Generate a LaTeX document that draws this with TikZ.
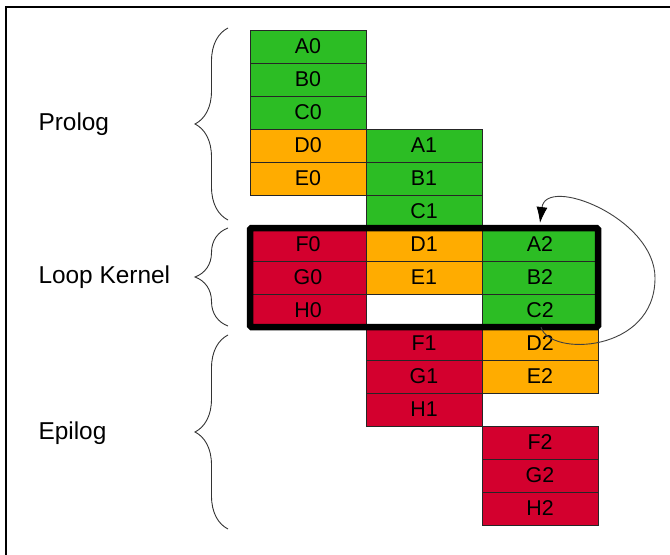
\documentclass[tikz,border=0pt]{standalone}
\usepackage{fontspec}
\setmainfont{Liberation Sans}
\usetikzlibrary{positioning,decorations.pathreplacing,arrows.meta}
\definecolor{stGreen}{HTML}{2CBD24}
\definecolor{stOrange}{HTML}{FFAC00}
\definecolor{stRed}{HTML}{D3002E}

\tikzset{
    stage/.style={draw=black!85, line width=0.9bp, minimum width=116bp, minimum height=33bp,
        inner sep=0pt, outer sep=0pt, font=\fontsize{21.5}{25}\selectfont},
    grn/.style={stage, fill=stGreen},
    org/.style={stage, fill=stOrange},
    rd/.style={stage, fill=stRed},
    kbrace/.style={decorate, decoration={brace, amplitude=33bp}, line width=0.9bp, black!80},
    phase/.style={anchor=west, font=\fontsize{24.5}{28}\selectfont}
}

\begin{document}
\begin{tikzpicture}[x=1bp, y=-1bp]
    \useasboundingbox (0,0) rectangle (670,555);
    \draw[line width=1.3bp] (6,555) -- (6,7) -- (670,7);

    % iteration 0
    \node[grn] (A0) at (308,46.5) {A0};
    \node[grn, below=0pt of A0] (B0) {B0};
    \node[grn, below=0pt of B0] (C0) {C0};
    \node[org, below=0pt of C0] (D0) {D0};
    \node[org, below=0pt of D0] (E0) {E0};
    \node[rd, below=33bp of E0] (F0) {F0};
    \node[rd, below=0pt of F0] (G0) {G0};
    \node[rd, below=0pt of G0] (H0) {H0};

    % iteration 1
    \node[grn, right=0pt of D0] (A1) {A1};
    \node[grn, below=0pt of A1] (B1) {B1};
    \node[grn, below=0pt of B1] (C1) {C1};
    \node[org, below=0pt of C1] (D1) {D1};
    \node[org, below=0pt of D1] (E1) {E1};
    \node[rd, anchor=north west] (F1) at (H0.south east) {F1};
    \node[rd, below=0pt of F1] (G1) {G1};
    \node[rd, below=0pt of G1] (H1) {H1};

    % iteration 2
    \node[grn, right=0pt of D1] (A2) {A2};
    \node[grn, below=0pt of A2] (B2) {B2};
    \node[grn, below=0pt of B2] (C2) {C2};
    \node[org, right=0pt of F1] (D2) {D2};
    \node[org, below=0pt of D2] (E2) {E2};
    \node[rd, anchor=north west] (F2) at (H1.south east) {F2};
    \node[rd, below=0pt of F2] (G2) {G2};
    \node[rd, below=0pt of G2] (H2) {H2};

    % steady state
    \draw[line width=6.5bp, rounded corners=1.5bp] (F0.north west) rectangle (C2.south east);
    \draw[black!75, line width=0.9bp, -{Latex[length=16bp, width=11bp, black]}]
        ([xshift=1bp]C2.south) .. controls +(8,30) and +(0,75) .. (655,278)
        .. controls +(0,-60) and +(6,-48) .. ([yshift=5bp]A2.north);

    % phases
    \draw[kbrace] (228,220) -- (228,28);
    \draw[kbrace] (228,326) -- (228,228);
    \draw[kbrace] (228,529) -- (228,335);
    \node[phase] (prolog) at (35,124) {Prolog};
    \node[phase] (kernel) at (35,277) {Loop Kernel};
    \node[phase] (epilog) at (35,433) {Epilog};
\end{tikzpicture}
\end{document}
